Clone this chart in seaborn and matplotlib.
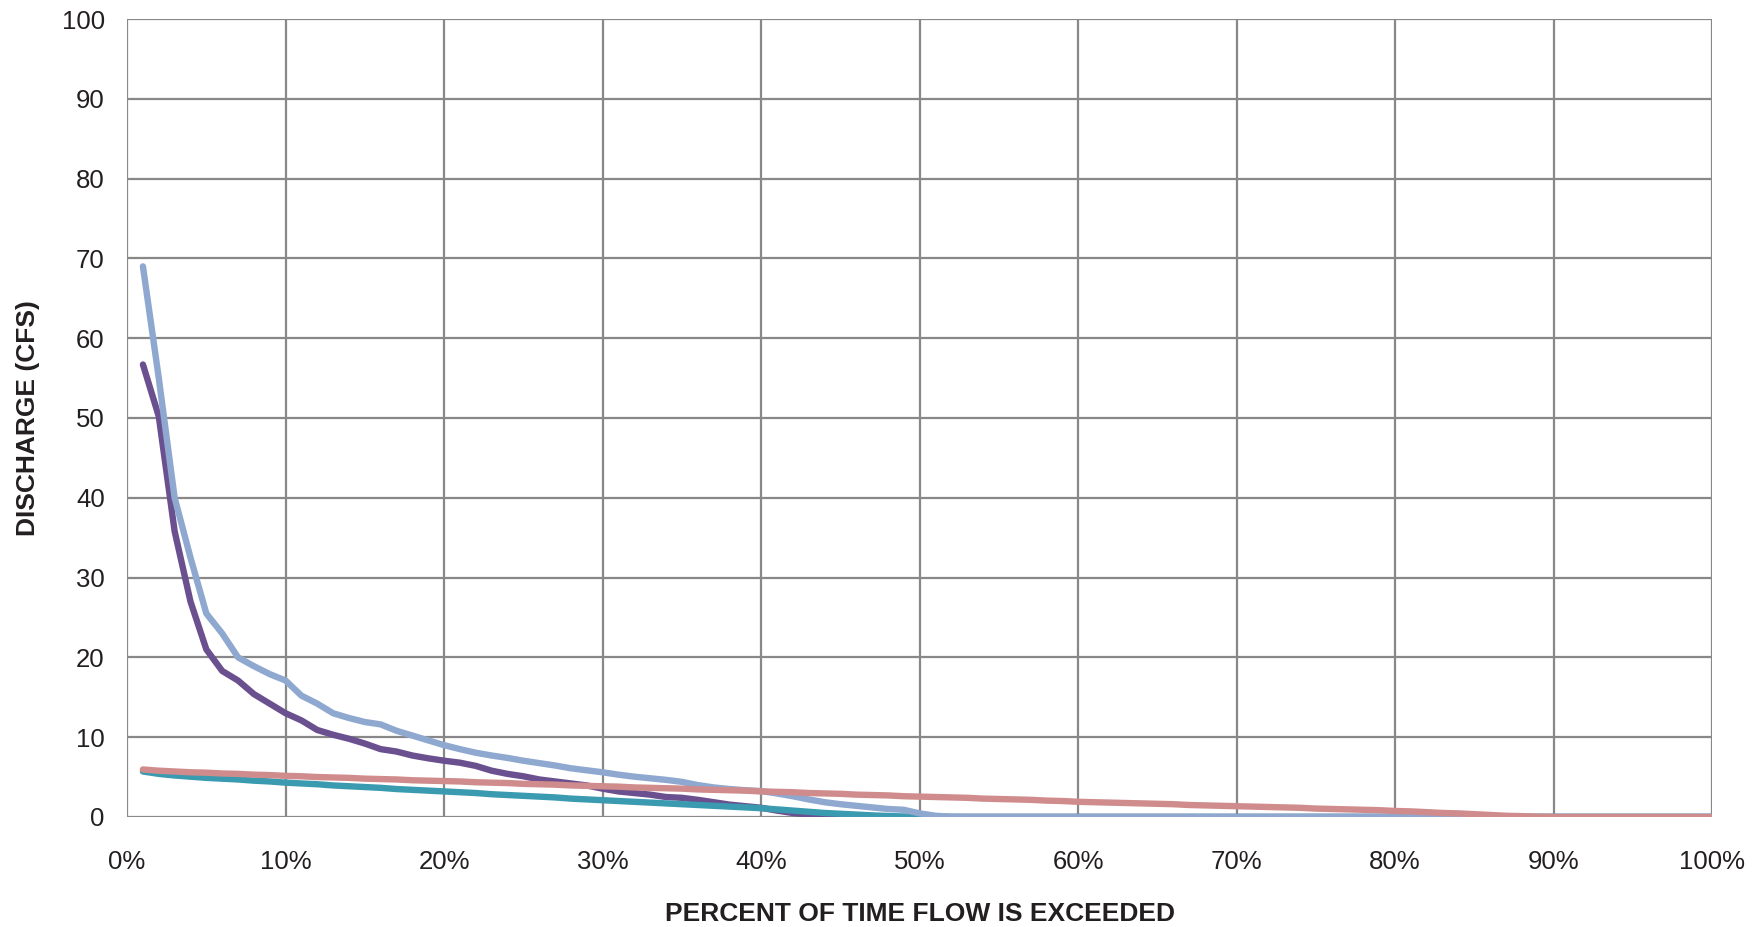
import numpy as np
import pandas as pd
import matplotlib
matplotlib.use('Agg')
import matplotlib.pyplot as plt
import seaborn as sns

# percent of time flow is exceeded, 1..100
pct = list(range(1, 101))

gage_a = [56.7, 50.2, 35.8, 27, 21, 18.3, 17.1, 15.4, 14.2, 13,
          12.1, 10.9, 10.3, 9.8, 9.2, 8.5, 8.2, 7.7, 7.35, 7.05,
          6.8, 6.4, 5.8, 5.4, 5.1, 4.7, 4.45, 4.2, 3.95, 3.55,
          3.2, 3.0, 2.8, 2.5, 2.4, 2.15, 1.85, 1.55, 1.35, 1.15,
          0.8, 0.5, 0.3, 0.12, 0.05] + [0] * 55

gage_b = [5.7, 5.4, 5.2, 5.05, 4.9, 4.8, 4.7, 4.55, 4.45, 4.3,
          4.2, 4.1, 3.95, 3.85, 3.75, 3.65, 3.5, 3.4, 3.3, 3.2,
          3.1, 3.0, 2.85, 2.75, 2.65, 2.55, 2.45, 2.3, 2.2, 2.1,
          2.0, 1.9, 1.8, 1.7, 1.6, 1.5, 1.4, 1.3, 1.2, 1.1,
          0.95, 0.8, 0.65, 0.5, 0.4, 0.3, 0.2, 0.12, 0.05] + [0] * 51

gage_c = [69, 55, 40, 32.5, 25.5, 23, 20, 18.9, 17.9, 17.1,
          15.2, 14.2, 13, 12.4, 11.9, 11.6, 10.8, 10.2, 9.6, 9.0,
          8.5, 8.05, 7.7, 7.4, 7.05, 6.75, 6.45, 6.1, 5.85, 5.6,
          5.3, 5.05, 4.85, 4.65, 4.4, 4.0, 3.7, 3.5, 3.35, 3.25,
          2.95, 2.6, 2.2, 1.85, 1.6, 1.4, 1.2, 1.0, 0.9, 0.45,
          0.15, 0.03] + [0] * 48

gage_d = [5.95, 5.8, 5.7, 5.6, 5.55, 5.45, 5.4, 5.3, 5.25, 5.15,
          5.1, 5.0, 4.95, 4.9, 4.8, 4.75, 4.7, 4.6, 4.55, 4.5,
          4.45, 4.35, 4.3, 4.25, 4.15, 4.1, 4.05, 3.95, 3.9, 3.85,
          3.8, 3.7, 3.65, 3.6, 3.55, 3.45, 3.4, 3.35, 3.3, 3.2,
          3.15, 3.1, 3.0, 2.95, 2.9, 2.8, 2.75, 2.7, 2.6, 2.55,
          2.5, 2.45, 2.4, 2.3, 2.25, 2.2, 2.15, 2.05, 2.0, 1.9,
          1.85, 1.8, 1.75, 1.7, 1.65, 1.6, 1.5, 1.45, 1.4, 1.35,
          1.3, 1.25, 1.2, 1.15, 1.05, 1.0, 0.95, 0.9, 0.85, 0.75,
          0.7, 0.6, 0.5, 0.45, 0.35, 0.25, 0.15, 0.1, 0.03] + [0] * 11

names = ['Gage A', 'Gage B', 'Gage C', 'Gage D']
colors = ['#6B5090', '#3A9AB0', '#8EA8D0', '#D08C8C']
xticks = list(range(0, 101, 10))
xticklabels = [f'{t}%' for t in xticks]
yticks = list(range(0, 101, 10))

df = pd.concat([
    pd.DataFrame({'pct': pct, 'cfs': vals, 'gage': n})
    for n, vals in zip(names, [gage_a, gage_b, gage_c, gage_d])
])

sns.set_style('white')
plt.rcParams['font.family'] = ['Liberation Sans', 'DejaVu Sans']

fig, ax = plt.subplots(figsize=(17.65, 9.27), dpi=100)
fig.subplots_adjust(left=0.072, right=0.970, top=0.9795, bottom=0.1187)

sns.lineplot(data=df, x='pct', y='cfs', hue='gage', hue_order=names,
             palette=colors, linewidth=4.6, legend=False, ax=ax)

ax.set_xlim(0, 100)
ax.set_ylim(0, 100)
ax.set_xticks(xticks)
ax.set_xticklabels(xticklabels)
ax.set_yticks(yticks)
ax.grid(True, color='#888888', linewidth=1.6)
ax.set_axisbelow(True)
for s in ax.spines.values():
    s.set_visible(False)
ax.tick_params(axis='both', length=7, width=1.6, color='#888888',
               labelsize=18.5, labelcolor='#231f20')
ax.tick_params(axis='x', pad=17)
ax.tick_params(axis='y', pad=9)

ax.set_xlabel('PERCENT OF TIME FLOW IS EXCEEDED', fontsize=19, fontweight='bold',
              labelpad=20, color='#231f20')
ax.set_ylabel('DISCHARGE (CFS)', fontsize=19, fontweight='bold',
              labelpad=16, color='#231f20')

plt.savefig('out.png', dpi=100)
print("done!")
